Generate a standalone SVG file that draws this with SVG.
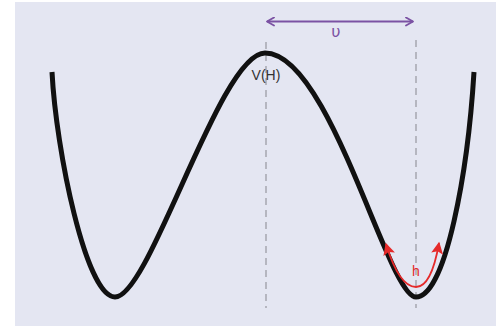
<svg xmlns="http://www.w3.org/2000/svg" width="496" height="326" viewBox="0 0 496 326">
<style>
.guide{stroke:#a5a7b0;stroke-width:1.5;stroke-dasharray:7 5;fill:none}
.well{stroke:#111;stroke-width:5;fill:none;stroke-linecap:butt;stroke-linejoin:round}
.lbl{font-family:"Liberation Sans",Arial,sans-serif;font-size:14px;text-anchor:middle}
</style>
<defs>
<marker id="chev" viewBox="0 0 10 10" refX="9" refY="5" markerWidth="10" markerHeight="10" markerUnits="userSpaceOnUse" orient="auto-start-reverse">
<path d="M2,1 L9,5 L2,9" fill="none" stroke="#7b52a3" stroke-width="1.8" stroke-linecap="round" stroke-linejoin="round"/>
</marker>
<marker id="redhead" viewBox="0 0 10 10" refX="9" refY="5" markerWidth="13" markerHeight="12" markerUnits="userSpaceOnUse" orient="auto-start-reverse">
<path d="M0,0 L10,5 L0,10 L2,5 Z" fill="#e52a2a"/>
</marker>
</defs>
<rect x="15" y="2" width="481" height="324" fill="#e4e6f2"/>
<g id="guides">
<line class="guide" x1="266" y1="42" x2="266" y2="308"/>
<line class="guide" x1="416" y1="40" x2="416" y2="308"/>
</g>
<g id="well">
<path class="well" d="M52,72 C56,150 86,297 115,297 C150,297 220,53 265,53 C330,53 388,297 416,297 C446,297 468,170 474,72"/>
</g>
<g id="connectors">
<line x1="267" y1="21.5" x2="413" y2="21.5" stroke="#7b52a3" stroke-width="1.8" marker-start="url(#chev)" marker-end="url(#chev)"/>
<path d="M386,244 C394,270 404,287 416,287 C428,287 435,266 439,243" fill="none" stroke="#e52a2a" stroke-width="1.8" marker-start="url(#redhead)" marker-end="url(#redhead)"/>
</g>
<g id="label-upsilon"><text x="336" y="37" fill="#7b52a3" font-family="'DejaVu Sans',sans-serif" font-size="16" text-anchor="middle">υ</text></g>
<g id="label-VH"><text class="lbl" x="266" y="80" fill="#333">V(H)</text></g>
<g id="label-h"><text class="lbl" x="416" y="276" fill="#e52a2a">h</text></g>
</svg>
